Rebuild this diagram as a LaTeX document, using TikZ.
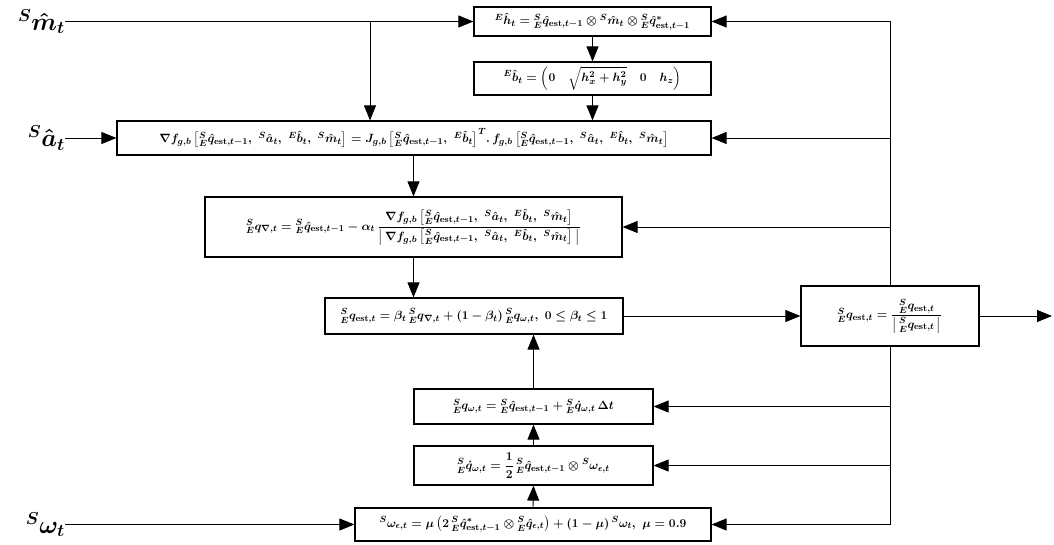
\documentclass[tikz,border=0pt]{standalone}
\usepackage{amsmath,amssymb}
\usepackage{tikz}
\usetikzlibrary{arrows.meta}

\newcommand{\SE}{{}^{S}_{E}}
\newcommand{\est}{\mathrm{est}}
\newcommand{\gradarg}{\left[\SE\hat{q}_{\est,t-1},\ {}^{S}\hat{a}_t,\ {}^{E}\hat{b}_t,\ {}^{S}\hat{m}_t\right]}

\tikzset{
  eqbox/.style={draw, line width=1.2pt, inner sep=2pt, font=\fontsize{13}{15}\selectfont\boldmath},
  arr/.style={-{Triangle[length=15pt,width=12pt]}, line width=0.9pt},
  inlabel/.style={inner sep=0pt, anchor=east, font=\fontsize{26}{30}\selectfont\boldmath}
}

\begin{document}
\begin{tikzpicture}[x=1pt,y=-1pt]
\useasboundingbox (0,0) rectangle (1054,544);

% Magnetometer branch
\node[eqbox, minimum width=237pt, minimum height=29pt] (hbox) at (592.5,21.5)
  {${}^{E}\hat{h}_t = \SE\hat{q}_{\est,t-1} \otimes {}^{S}\hat{m}_t \otimes \SE\hat{q}^{*}_{\est,t-1}$};
\node[eqbox, minimum width=237pt, minimum height=33pt] (bbox) at (592.5,78.5)
  {${}^{E}\hat{b}_t = \left(0\quad \sqrt{h_x^2+h_y^2}\quad 0\quad h_z\right)$};

% Gradient descent
\node[eqbox, minimum width=594pt, minimum height=34pt] (gbox) at (414,138)
  {$\nabla f_{g,b}\gradarg = J_{g,b}\left[\SE\hat{q}_{\est,t-1},\ {}^{E}\hat{b}_t\right]^{T}\!.\,f_{g,b}\gradarg$};
\node[eqbox, minimum width=417pt, minimum height=60pt] (qn) at (413.5,227)
  {$\SE q_{\nabla,t} = \SE\hat{q}_{\est,t-1} - \alpha_t\, \dfrac{\nabla f_{g,b}\gradarg}{\left|\,\nabla f_{g,b}\gradarg\,\right|}$};

% Fusion and normalisation
\node[eqbox, minimum width=298pt, minimum height=36pt] (qest) at (474,316)
  {$\SE q_{\est,t} = \beta_t\,\SE q_{\nabla,t} + (1-\beta_t)\,\SE q_{\omega,t},\ 0 \le \beta_t \le 1$};
\node[eqbox, minimum width=178pt, minimum height=60pt] (norm) at (890,316)
  {$\SE q_{\est,t} = \dfrac{\SE q_{\est,t}}{\left|\,\SE q_{\est,t}\,\right|}$};

% Gyroscope branch
\node[eqbox, minimum width=239pt, minimum height=35pt] (qw) at (533.5,406.5)
  {$\SE q_{\omega,t} = \SE\hat{q}_{\est,t-1} + \SE\dot{q}_{\omega,t}\,\Delta t$};
\node[eqbox, minimum width=239pt, minimum height=39pt] (qdot) at (533.5,465.5)
  {$\SE\dot{q}_{\omega,t} = \dfrac{1}{2}\,\SE\hat{q}_{\est,t-1} \otimes {}^{S}\omega_{\epsilon,t}$};
\node[eqbox, minimum width=356pt, minimum height=33pt] (weps) at (533,524.5)
  {${}^{S}\omega_{\epsilon,t} = \mu\left(2\,\SE\hat{q}^{*}_{\est,t-1} \otimes \SE\hat{q}_{\epsilon,t}\right) + (1-\mu)\,{}^{S}\omega_t,\ \mu = 0.9$};

% Inputs
\node[inlabel] (mlab) at (65,21.5) {${}^{S}\hat{m}_t$};
\node[inlabel] (alab) at (65,138) {${}^{S}\hat{a}_t$};
\node[inlabel] (wlab) at (65,524.5) {${}^{S}\omega_t$};
\coordinate (mtap) at (370,21.5);
\coordinate (out) at (1052,316);

\draw[arr] (mlab.east) -- (hbox.west);
\draw[arr] (mtap) -- (mtap |- gbox.north);
\draw[arr] (alab.east) -- (gbox.west);
\draw[arr] (wlab.east) -- (weps.west);

% Forward path
\draw[arr] (hbox.south) -- (bbox.north);
\draw[arr] (bbox.south) -- (bbox.south |- gbox.north);
\draw[arr] (qn.north |- gbox.south) -- (qn.north);
\draw[arr] (qn.south) -- (qn.south |- qest.north);
\draw[arr] (qest.east) -- (norm.west);
\draw[arr] (weps.north) -- (qdot.south);
\draw[arr] (qdot.north) -- (qw.south);
\draw[arr] (qw.north) -- (qw.north |- qest.south);
\draw[arr] (norm.east) -- (out);

% Feedback of the estimate
\draw[arr] (norm.north) |- (hbox.east);
\draw[arr] (norm.south) |- (weps.east);
\foreach \b in {gbox,qn,qw,qdot}
  \draw[arr] (norm.north |- \b.east) -- (\b.east);
\end{tikzpicture}
\end{document}
